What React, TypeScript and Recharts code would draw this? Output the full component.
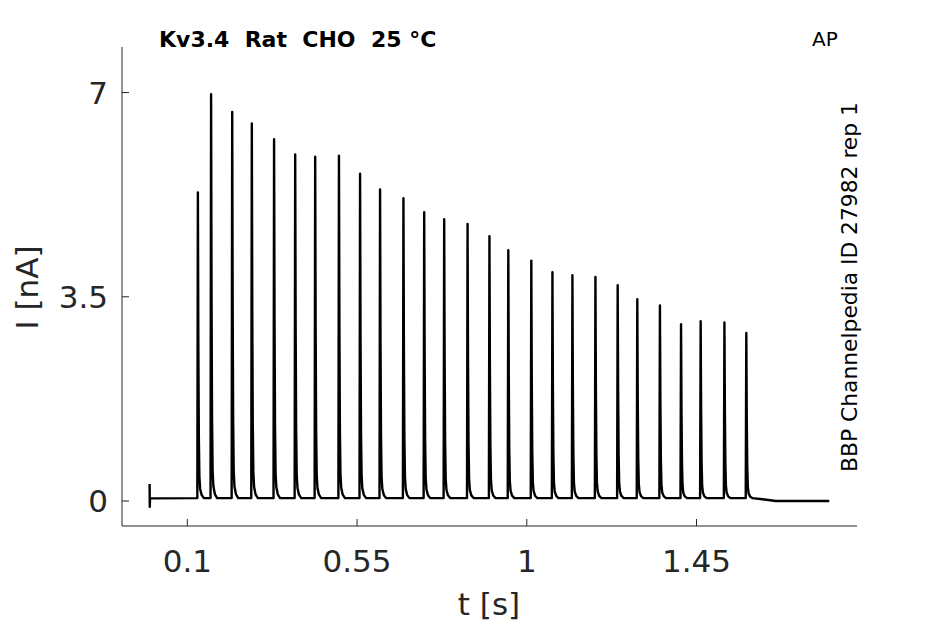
import { LineChart, Line, XAxis, YAxis } from 'recharts';

// Kv3.4 AP-clamp current trace
const spikeTimes = [
  0.128, 0.163, 0.219, 0.271, 0.33, 0.386, 0.439, 0.502, 0.558, 0.611, 0.673,
  0.728, 0.781, 0.843, 0.901, 0.951, 1.012, 1.068, 1.121, 1.182, 1.241, 1.293,
  1.353, 1.409, 1.461, 1.524, 1.582,
];
const spikePeaks = [
  5.29, 6.97, 6.67, 6.47, 6.2, 5.94, 5.9, 5.92, 5.61, 5.34, 5.19, 4.95, 4.83,
  4.75, 4.54, 4.3, 4.12, 3.92, 3.87, 3.84, 3.7, 3.46, 3.35, 3.03, 3.08, 3.06,
  2.88,
];

// shape of one spike: time offset from peak [s] and fraction of peak height
const spikeOffsets = [-0.0015, 0, 0.0012, 0.0025, 0.004, 0.006, 0.01, 0.016];
const spikeShape = [0, 1, 0.5, 0.2, 0.07, 0.03, 0.01, 0];

const baseline = 0.05;
// capacitive artefact at the start and the tail after the train
const startTrace = [
  { t: 0, v: 0.29 },
  { t: 0.0004, v: -0.1 },
  { t: 0.0012, v: 0.046 },
];
const endTrace = [
  { t: 1.625, v: 0.03 },
  { t: 1.66, v: 0 },
  { t: 1.802, v: 0 },
];

const xTicks = [0.1, 0.55, 1, 1.45];
const yTicks = [0, 3.5, 7];

const axisColor = '#262626';
const font = 'DejaVu Sans';

const trace = [...startTrace];
spikeTimes.forEach((t0, i) => {
  spikeOffsets.forEach((dt, k) => {
    trace.push({
      t: t0 + dt,
      v: baseline + (spikePeaks[i] - baseline) * spikeShape[k],
    });
  });
});
trace.push(...endTrace);

const YTick = ({ x, y, payload }: any) => (
  <g>
    <line x1={x} y1={y} x2={x + 7} y2={y} stroke={axisColor} />
    <text
      x={x - 14}
      y={y}
      dy="0.36em"
      textAnchor="end"
      fontSize={31}
      fontFamily={font}
      fill={axisColor}
    >
      {payload.value}
    </text>
  </g>
);

const XTick = ({ x, y, payload }: any) => (
  <g>
    <line x1={x} y1={y} x2={x} y2={y - 7} stroke={axisColor} />
    <text
      x={x}
      y={y + 46}
      textAnchor="middle"
      fontSize={31}
      fontFamily={font}
      fill={axisColor}
    >
      {payload.value}
    </text>
  </g>
);

export default function App() {
  return (
    <div style={{ position: 'absolute', left: 0, top: 0, width: 945, height: 624, background: '#fff' }}>
      <LineChart
        width={945}
        height={624}
        data={trace}
        margin={{ top: 47, right: 88, bottom: 38, left: 62 }}
      >
        <XAxis
          type="number"
          dataKey="t"
          domain={[-0.0732, 1.8755]}
          ticks={xTicks}
          height={60}
          tickSize={0}
          tickMargin={0}
          tick={<XTick />}
          axisLine={{ stroke: axisColor }}
          allowDataOverflow
        />
        <YAxis
          type="number"
          domain={[-0.428, 7.781]}
          ticks={yTicks}
          width={60}
          tickSize={0}
          tickMargin={0}
          tick={<YTick />}
          axisLine={{ stroke: axisColor }}
          allowDataOverflow
        />
        <Line
          type="linear"
          dataKey="v"
          stroke="#000"
          strokeWidth={2.4}
          strokeLinejoin="round"
          dot={false}
          activeDot={false}
          isAnimationActive={false}
        />
      </LineChart>
      <svg
        width={945}
        height={624}
        style={{ position: 'absolute', left: 0, top: 0, pointerEvents: 'none' }}
        fontFamily={font}
      >
        <text x={159} y={47} fontSize={22} fontWeight="bold" fill="#000" style={{ whiteSpace: 'pre' }}>
          {'Kv3.4  Rat  CHO  25 °C'}
        </text>
        <text x={812} y={46} fontSize={20} fill="#000">
          AP
        </text>
        <text
          transform="translate(857 287) rotate(-90)"
          textAnchor="middle"
          fontSize={21.8}
          fill="#000"
        >
          BBP Channelpedia ID 27982 rep 1
        </text>
        <text x={489} y={615} textAnchor="middle" fontSize={31} fill={axisColor}>
          t [s]
        </text>
        <text
          transform="translate(37.5 287.5) rotate(-90)"
          textAnchor="middle"
          fontSize={31}
          fill={axisColor}
        >
          I [nA]
        </text>
      </svg>
    </div>
  );
}
